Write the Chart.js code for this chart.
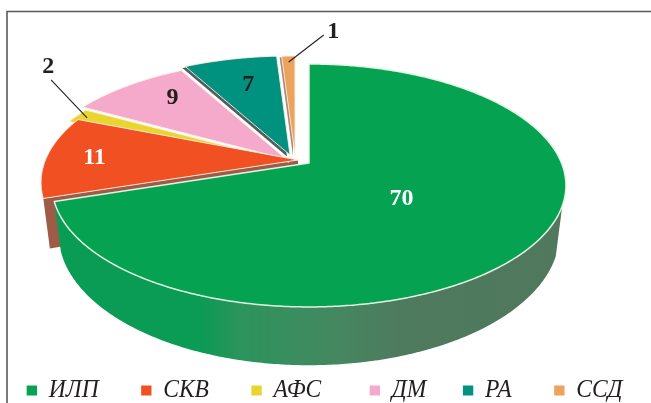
<!DOCTYPE html>
<html><head><meta charset="utf-8">
<style>html,body{margin:0;padding:0;background:#fff}#w{width:651px;height:403px;position:relative}</style>
<script src="https://cdn.jsdelivr.net/npm/chart.js@4"></script>
</head><body><div id="w"><canvas id="c" width="651" height="403"></canvas></div>
<script>
const categories = ['ИЛП','СКВ','АФС','ДМ','РА','ССД'];
const values = [70,11,2,9,7,1];
const colors = ['#05A351','#F15022','#E8D52F','#F5A9CB','#00917F','#EBA35D'];
const legendGapSpaces = [1,1,2,0,1,0];
const valueTextColors = ['#fff','#fff','#231F20','#231F20','#231F20','#231F20'];

// appearance of the tilted, exploded pie
const view = {
  apex:[[309,163],[298,160],[289,162],[286,159],[290,155],[295,155]],
  k:0.185, top:{a:117.3,b:252.5}, low:{dy:47,a:126.5,b:246},
  labelAt:[[.44,-2,4],[.79,-5,1],[1,-29,-49],[.72,4,-7],[.7,2,0],[1,45,-24]],
  leader:[null,null,[.95,-36,-38],null,null,[.93,35,-27]],
  legend:{scaleX:.94,dx:-10,dy:10}
};

function pt(i,angle,r,level){
  const p = view[level], ap = view.apex[i];
  const x = Math.cos(angle)*r, y = Math.sin(angle)*r, w = 1-view.k*y;
  return [ap[0]+p.b*x/w, ap[1]+(p.dy||0)+p.a*y/w];
}
function trace(ctx,i,a0,a1,level,move){
  const n = Math.max(2,Math.ceil(Math.abs(a1-a0)/0.01));
  for(let s=0;s<=n;s++){
    const q = pt(i,a0+(a1-a0)*s/n,1,level);
    (s===0&&move)?ctx.moveTo(q[0],q[1]):ctx.lineTo(q[0],q[1]);
  }
}
function slicePath(ctx,i,a0,a1,dx,dy){
  ctx.save();ctx.translate(dx||0,dy||0);
  ctx.beginPath();
  const c = view.apex[i];
  ctx.moveTo(c[0],c[1]);
  trace(ctx,i,a0,a1,'top',false);
  ctx.closePath();
  ctx.restore();
}
const wideLegend = 900;
const pie3d = {
  id:'pie3d',
  beforeLayout(chart){
    const lg = chart.legend;
    if(lg && !lg._wrapped){
      const fit = lg.fit, draw = lg.draw;
      lg.fit = function(){ this.maxWidth = wideLegend; fit.call(this); };
      lg.draw = function(a){
        const c=chart.ctx;c.save();
        c.translate(view.legend.dx,view.legend.dy);
        c.scale(view.legend.scaleX,1);
        this.right = wideLegend;
        draw.call(this,a);
        c.restore();
      };
      lg._wrapped = true;
    }
  },
  beforeDatasetsDraw(chart){
    const ctx = chart.ctx, arcs = chart.getDatasetMeta(0).data;
    ctx.save();
    // frame
    ctx.strokeStyle='#5a5a5a';ctx.lineWidth=1.6;
    ctx.beginPath();ctx.moveTo(7,403);ctx.lineTo(7,11.5);ctx.lineTo(651,11.5);ctx.stroke();
    ctx.lineJoin='round';
    const order=[2,3,5,4,1];
    // radial face of the СКВ slice
    {
      const a=arcs[1].startAngle, o=pt(1,a,1,'top'), l=pt(1,a,1,'low'), c=view.apex[1];
      ctx.fillStyle='#9E5C48';ctx.beginPath();
      ctx.moveTo(c[0],c[1]);ctx.lineTo(o[0],o[1]);ctx.lineTo(l[0],l[1]);ctx.lineTo(c[0],c[1]+view.low.dy);ctx.closePath();ctx.fill();
    }
    for(const i of order){
      const a=arcs[i];
      if(i===4){slicePath(ctx,i,a.startAngle,a.endAngle,-3,1.5);ctx.fillStyle='#4D5F60';ctx.fill();}
      if(i===5){slicePath(ctx,i,a.startAngle,a.endAngle,-2,1);ctx.fillStyle='#A58A78';ctx.fill();}
      slicePath(ctx,i,a.startAngle,a.endAngle);
      ctx.fillStyle=colors[i];ctx.fill();
      ctx.strokeStyle='rgba(255,240,225,.9)';ctx.lineWidth=1;ctx.stroke();
    }
    // main slice wall
    const g=arcs[0];
    const a0=g.startAngle+110*Math.PI/180, a1=g.endAngle;
    const grad=ctx.createLinearGradient(60,0,560,0);
    grad.addColorStop(0,'#0A9B54');grad.addColorStop(.28,'#0A9B54');grad.addColorStop(.36,'#2C945C');
    grad.addColorStop(.56,'#458760');grad.addColorStop(.68,'#4E7A5E');grad.addColorStop(1,'#50785C');
    ctx.beginPath();trace(ctx,0,a0,a1,'top',true);trace(ctx,0,a1,a0,'low',false);ctx.closePath();
    ctx.fillStyle=grad;ctx.fill();
    slicePath(ctx,0,g.startAngle,g.endAngle);
    ctx.fillStyle=colors[0];ctx.fill();
    ctx.strokeStyle='#E4F4E2';ctx.lineWidth=1.5;ctx.stroke();
    // values and leaders
    ctx.font='bold 24px "Liberation Serif"';ctx.textAlign='center';ctx.textBaseline='middle';
    arcs.forEach((a,i)=>{
      const mid=(a.startAngle+a.endAngle)/2, la=view.labelAt[i], q=pt(i,mid,la[0],'top');
      ctx.fillStyle=valueTextColors[i];
      ctx.fillText(String(values[i]),q[0]+la[1],q[1]+la[2]);
      const ld=view.leader[i];
      if(ld){
        const s=pt(i,mid,ld[0],'top');
        ctx.strokeStyle='#231F20';ctx.lineWidth=1.1;ctx.beginPath();
        ctx.moveTo(s[0],s[1]);ctx.lineTo(s[0]+ld[1],s[1]+ld[2]);ctx.stroke();
      }
    });
    ctx.restore();
    return false;
  }
};
new Chart(document.getElementById('c'),{
  type:'pie',
  data:{labels:categories,datasets:[{data:values,backgroundColor:colors,borderWidth:0}]},
  plugins:[pie3d],
  options:{
    responsive:false,animation:false,
    plugins:{
      tooltip:{enabled:false},
      legend:{
        position:'bottom',align:'start',
        labels:{
          color:'#231F20',boxWidth:11,boxHeight:10,padding:39,
          font:{family:'"Liberation Serif"',style:'italic',size:25},
          generateLabels(chart){
            return categories.map((t,i)=>({text:t+'\u00A0'.repeat(legendGapSpaces[i]),fillStyle:colors[i],strokeStyle:colors[i],lineWidth:0,index:i,fontColor:'#231F20'}));
          }
        }
      }
    }
  }
});
</script></body></html>
